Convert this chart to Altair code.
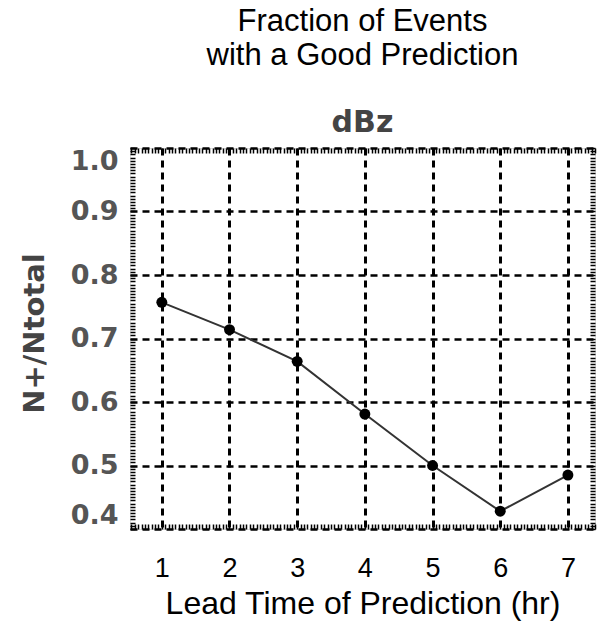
import altair as alt
import pandas as pd

# ---- data ----
lead_time = [1, 2, 3, 4, 5, 6, 7]
fraction = [0.757, 0.714, 0.664, 0.581, 0.500, 0.428, 0.485]

x_tick_values = [1, 2, 3, 4, 5, 6, 7]
y_tick_values = [0.4, 0.5, 0.6, 0.7, 0.8, 0.9, 1.0]
x_minor_values = [round(0.55 + 0.05 * i, 2) for i in range(138)]
y_minor_values = [round(0.4 + 0.005 * i, 3) for i in range(121)]

X_DOMAIN = [0.53, 7.4]
Y_DOMAIN = [0.4, 1.0]

df = pd.DataFrame({"lead": lead_time, "frac": fraction})

xs = alt.Scale(domain=X_DOMAIN, nice=False, zero=False)
ys = alt.Scale(domain=Y_DOMAIN, nice=False, zero=False)

main_x = alt.X(
    "lead:Q", scale=xs,
    axis=alt.Axis(
        values=x_tick_values, format="d", ticks=False, domain=False,
        grid=True, gridColor="black", gridDash=[7, 5], gridWidth=3,
        labelFont="Liberation Sans", labelFontSize=27, labelColor="black",
        labelPadding=26,
        title="Lead Time of Prediction (hr)", titleFont="Liberation Sans",
        titleFontSize=32, titleFontWeight="normal", titleColor="black",
        titleY=74, titleBaseline="middle",
    ),
)
main_y = alt.Y(
    "frac:Q", scale=ys,
    axis=alt.Axis(
        values=y_tick_values, format=".1f", ticks=False, domain=False,
        grid=True, gridColor="black", gridDash=[7, 5], gridWidth=2.5,
        labelFont="DejaVu Sans", labelFontWeight="bold", labelFontSize=27,
        labelColor="#555555", labelPadding=12, labelFlush=True,
        title="N+/Ntotal", titleFont="DejaVu Sans", titleFontWeight="bold",
        titleFontSize=29, titleColor="#444444", titleAngle=270,
        titleX=-96, titleY=185, titleAlign="center", titleBaseline="middle",
    ),
)

base = alt.Chart(df).encode(x=main_x, y=main_y)
line = base.mark_line(color="#333333", strokeWidth=2)
points = base.mark_circle(color="black", size=120, opacity=1)
main = alt.layer(line, points)


def minor_axis(orient, values):
    return alt.Axis(
        orient=orient, values=values, labels=False, domain=False, grid=False,
        ticks=True, tickSize=5, tickWidth=1.5, tickColor="black", offset=-5,
        title="",
    )


minor_a = alt.Chart(df).mark_point(opacity=0).encode(
    x=alt.X("lead:Q", scale=xs, axis=minor_axis("top", x_minor_values)),
    y=alt.Y("frac:Q", scale=ys, axis=minor_axis("right", y_minor_values)),
)
minor_b = alt.Chart(df).mark_point(opacity=0).encode(
    x=alt.X("lead:Q", scale=xs, axis=minor_axis("bottom", x_minor_values)),
    y=alt.Y("frac:Q", scale=ys, axis=minor_axis("left", y_minor_values)),
)

chart = (
    alt.layer(main, minor_a, minor_b)
    .resolve_axis(x="independent", y="independent")
    .properties(
        width=465,
        height=381,
        autosize=alt.AutoSizeParams(type="none"),
        padding={"left": 130, "top": 148, "right": 2, "bottom": 95},
        title=alt.TitleParams(
            text=["Fraction of Events", "with a Good Prediction"],
            subtitle="dBz",
            font="Liberation Sans", fontSize=31, fontWeight="normal",
            color="black", lineHeight=34, anchor="middle", frame="group",
            subtitleFont="DejaVu Sans", subtitleFontWeight="bold",
            subtitleFontSize=30, subtitleColor="#444444",
            subtitlePadding=36, offset=8,
        ),
    )
    .configure_view(stroke="black", strokeWidth=3.5)
    .configure(background="white")
)

chart.save("out.html", embed_options={"renderer": "svg", "actions": False})
